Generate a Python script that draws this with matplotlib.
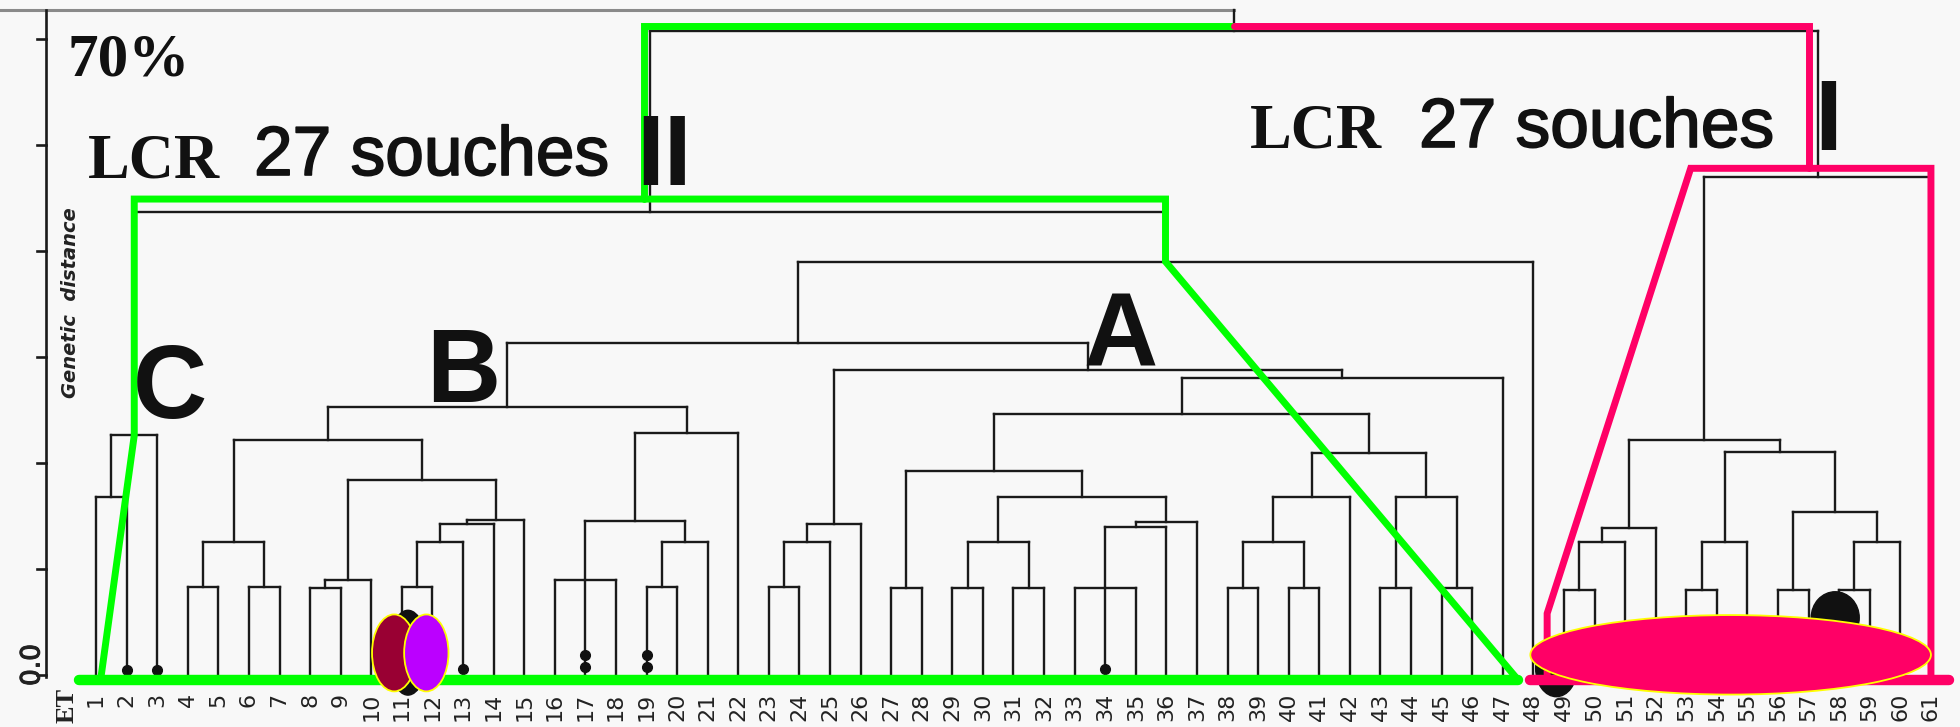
import matplotlib
matplotlib.use('Agg')
import matplotlib.pyplot as plt
import matplotlib.patheffects as pe
from matplotlib.patches import Ellipse

# leaves (strain numbers) along the bottom
leaves = list(range(1, 62))

# merges: node name, children, genetic distance of the join
merges = [
    # cluster C
    ('c12', (1, 2), 0.168),
    ('C', ('c12', 3), 0.226),
    # cluster B
    ('b45', (4, 5), 0.083),
    ('b67', (6, 7), 0.083),
    ('b4567', ('b45', 'b67'), 0.125),
    ('b89', (8, 9), 0.082),
    ('b8910', ('b89', 10), 0.090),
    ('b1112', (11, 12), 0.083),
    ('b13', ('b1112', 13), 0.125),
    ('b14', ('b13', 14), 0.142),
    ('b15', ('b14', 15), 0.146),
    ('bLR', ('b8910', 'b15'), 0.184),
    ('bL', ('b4567', 'bLR'), 0.222),
    ('b1618', (16, 17, 18), 0.090),
    ('b1920', (19, 20), 0.083),
    ('b21', ('b1920', 21), 0.125),
    ('bR1', ('b1618', 'b21'), 0.145),
    ('bR', ('bR1', 22), 0.228),
    ('B', ('bL', 'bR'), 0.253),
    # cluster A
    ('a2324', (23, 24), 0.083),
    ('a25', ('a2324', 25), 0.125),
    ('a26', ('a25', 26), 0.142),
    ('a2728', (27, 28), 0.082),
    ('a2930', (29, 30), 0.082),
    ('a3132', (31, 32), 0.082),
    ('a2932', ('a2930', 'a3132'), 0.125),
    ('a3335', (33, 34, 35), 0.082),
    ('a36', ('a3335', 36), 0.140),
    ('a37', ('a36', 37), 0.144),
    ('a2937', ('a2932', 'a37'), 0.168),
    ('aL', ('a2728', 'a2937'), 0.192),
    ('a3839', (38, 39), 0.082),
    ('a4041', (40, 41), 0.082),
    ('a3841', ('a3839', 'a4041'), 0.125),
    ('a42', ('a3841', 42), 0.168),
    ('a4344', (43, 44), 0.082),
    ('a4546', (45, 46), 0.082),
    ('a4346', ('a4344', 'a4546'), 0.168),
    ('aR', ('a42', 'a4346'), 0.209),
    ('a1', ('aL', 'aR'), 0.246),
    ('a47', ('a1', 47), 0.280),
    ('A', ('a26', 'a47'), 0.288),
    ('BA', ('B', 'A'), 0.313),
    ('AB48', ('BA', 48), 0.390),
    ('II', ('C', 'AB48'), 0.437),
    # cluster I
    ('i4950', (49, 50), 0.080),
    ('i51', ('i4950', 51), 0.125),
    ('i52', ('i51', 52), 0.139),
    ('i5354', (53, 54), 0.080),
    ('i55', ('i5354', 55), 0.125),
    ('i5657', (56, 57), 0.080),
    ('i5859', (58, 59), 0.080),
    ('i60', ('i5859', 60), 0.125),
    ('i5660', ('i5657', 'i60'), 0.154),
    ('i5360', ('i55', 'i5660'), 0.210),
    ('iL', ('i52', 'i5360'), 0.222),
    ('I', ('iL', 61), 0.470),
    ('root', ('II', 'I'), 0.608),
]

# black marks on some strains: leaf -> heights of the dots
dots = {2: [0.005], 3: [0.005], 13: [0.006], 17: [0.0075, 0.019],
        19: [0.0075, 0.019], 34: [0.006]}
yticks = [0.0, 0.1, 0.2, 0.3, 0.4, 0.5, 0.6]

W, H = 1960, 727
fig = plt.figure(figsize=(W / 100, H / 100), dpi=100)
fig.patch.set_facecolor('#f8f8f8')
ax = fig.add_axes([0, 0, 1, 1])
ax.set_xlim(-2.14, 61.95)
ax.set_ylim(-0.0491, 0.6368)
ax.axis('off')

ink = '#1a1a1a'
lw_tree = 1.7

pos = {l: (l, 0.0) for l in leaves}
for name, kids, h in merges:
    xs = [pos[k][0] for k in kids]
    for k in kids:
        ax.plot([pos[k][0], pos[k][0]], [pos[k][1], h], color=ink, lw=lw_tree, zorder=2)
    ax.plot([min(xs), max(xs)], [h, h], color=ink, lw=lw_tree, zorder=2)
    pos[name] = ((min(xs) + max(xs)) / 2, h)

top = 0.627
x_root, h_root = pos['root']
ax.plot([x_root, x_root], [h_root, top], color=ink, lw=lw_tree, zorder=2)
# scan border line on top
ax.plot([-2.14, x_root], [top, top], color='#8a8a8a', lw=2.2, zorder=1)

# axis
ax_x = -0.62
ax.plot([ax_x, ax_x], [-0.002, top], color=ink, lw=1.9, zorder=2)
for t in yticks:
    ax.plot([ax_x - 0.3, ax_x], [t, t], color=ink, lw=1.9, zorder=2)
ax.text(-1.08, 0.0094, '0.0', rotation=90, ha='center', va='center',
        fontsize=19, color='#222222',
        path_effects=[pe.withStroke(linewidth=0.8, foreground='#222222')])

# dots
for leaf, ys in dots.items():
    ax.plot([leaf] * len(ys), ys, 'o', color='#111111', ms=7, zorder=3)

# leaf labels
for leaf in leaves:
    ax.text(leaf, -0.0170, str(leaf), rotation=90, ha='center', va='top',
            fontsize=16, color='#222222')
ax.text(0.05, -0.0118, 'ET', rotation=90, ha='center', va='top',
        fontsize=19, fontweight='bold', family='Liberation Serif', color='#222222')

# overlays
green = '#00ff00'
pink = '#ff0066'
base = -0.0047
lw_out = 5
lw_base = 7.5
x_C, h_C = pos['C']
x_AB, h_AB = pos['AB48']
x_II, h_II = pos['II']
x_I, h_I = pos['I']
x_iL = pos['iL'][0]
g_top = h_II + 0.012
r_top = h_root + 0.004
p_top = h_I + 0.008
kw = dict(solid_capstyle='round', solid_joinstyle='miter', zorder=4)

ax.plot([47.5, x_AB, x_AB, x_C, x_C, 1.15], [base, h_AB, g_top, g_top, h_C, base],
        color=green, lw=lw_out, **kw)
ax.plot([x_II - 0.2, x_II - 0.2, x_root], [g_top, r_top, r_top], color=green, lw=lw_out, **kw)
ax.plot([0.45, 47.5], [base, base], color=green, lw=lw_base, **kw)

ax.plot([x_root, x_I - 0.3, x_I - 0.3], [r_top, r_top, p_top], color=pink, lw=lw_out, **kw)
ax.plot([61, 61, x_iL - 0.45, 48.45, 48.45], [base, p_top, p_top, 0.058, base],
        color=pink, lw=lw_out, **kw)
ax.plot([47.9, 61.6], [base, base], color=pink, lw=lw_base, **kw)

# blobs and ellipses
ax.add_patch(Ellipse((11.2, 0.021), 1.3, 0.08, color='#111111', zorder=4))
ax.add_patch(Ellipse((48.75, 0.006), 1.35, 0.053, color='#111111', zorder=3))
ax.add_patch(Ellipse((57.87, 0.054), 1.57, 0.049, color='#111111', zorder=3))
ax.add_patch(Ellipse((10.75, 0.0208), 1.45, 0.0726, facecolor='#990033',
                     edgecolor='#ffff00', lw=1.3, zorder=5))
ax.add_patch(Ellipse((11.8, 0.0208), 1.45, 0.0726, facecolor='#bb00ff',
                     edgecolor='#ffff00', lw=1.3, zorder=6))
ax.add_patch(Ellipse(((47.9 + 61.0) / 2, 0.019), 61.0 - 47.9, 0.075, facecolor=pink,
                     edgecolor='#ffff00', lw=1.3, zorder=5))


def ftext(x, y, s, **k):
    fig.text(x / W, 1 - y / H, s, va='baseline', ha='left', color='#111111', **k)


serif = dict(family='Liberation Serif', fontweight='bold')
sans = dict(family='Liberation Sans')
heavy = [pe.withStroke(linewidth=1.2, foreground='#111111')]
ftext(67, 75, '70%', fontsize=44, **serif)
ftext(88, 177, 'LCR', fontsize=45, **serif)
ftext(254, 175, '27 souches', fontsize=50, path_effects=heavy, **sans)
ftext(636, 185, 'II', fontsize=72, fontweight='bold', **sans)
ftext(1250, 147, 'LCR', fontsize=45, **serif)
ftext(1419, 147, '27 souches', fontsize=50, path_effects=heavy, **sans)
ftext(1814, 150, 'I', fontsize=72, fontweight='bold', **sans)
ftext(133, 418, 'C', fontsize=74, fontweight='bold', **sans)
ftext(426, 402, 'B', fontsize=74, fontweight='bold', **sans)
ftext(1083, 365, 'A', fontsize=74, fontweight='bold', **sans)
fig.text(71 / W, 1 - 303 / H, 'Genetic  distance', rotation=90, ha='center', va='center',
         fontsize=14, fontstyle='italic', fontweight='bold', color='#222222')

fig.savefig('out.png', dpi=100, facecolor=fig.get_facecolor())
